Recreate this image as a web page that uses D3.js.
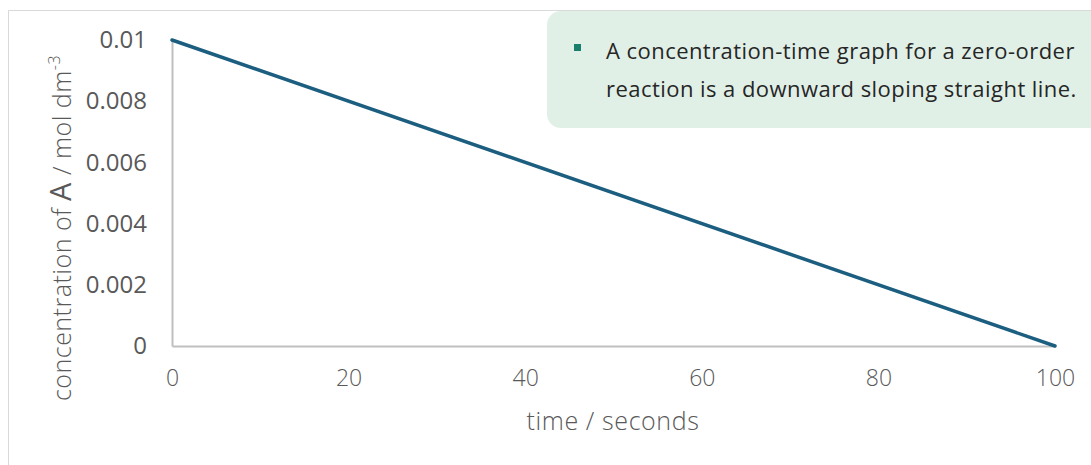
<!DOCTYPE html>
<html>
<head>
<meta charset="utf-8">
<script src="https://cdn.jsdelivr.net/npm/d3@7"></script>
<style>
  html, body { margin: 0; padding: 0; background: #fff; }
  svg { display: block; }
</style>
</head>
<body>
<svg id="chart" width="1091" height="465"></svg>
<script>
// Zero-order reaction: concentration of A falls linearly with time
const times = [0, 100];
const concentrations = [0.01, 0];
const xTicks = [0, 20, 40, 60, 80, 100];
const yTicks = [0, 0.002, 0.004, 0.006, 0.008, 0.01];
const yTickLabels = ["0", "0.002", "0.004", "0.006", "0.008", "0.01"];
const noteLines = [
  "A concentration-time graph for a zero-order",
  "reaction is a downward sloping straight line."
];

const svg = d3.select("#chart");
const W = 1091, H = 465;
const margin = { left: 172, right: 36, top: 40, bottom: 119 };
const FONT = "'Open Sans', sans-serif";

// outer frame (left and top edges)
svg.append("path")
  .attr("d", `M8.5,${H} L8.5,10.5 L${W},10.5`)
  .attr("fill", "none")
  .attr("stroke", "#d9d9d9")
  .attr("stroke-width", 1);

const x = d3.scaleLinear().domain([0, 100]).range([margin.left, W - margin.right]);
const y = d3.scaleLinear().domain([0, 0.01]).range([H - margin.bottom, margin.top]);

// x axis
const xAxis = svg.append("g")
  .attr("transform", `translate(0,${y(0)})`)
  .call(d3.axisBottom(x).tickValues(xTicks).tickSize(0).tickPadding(24));
xAxis.select(".domain").attr("stroke", "#bfbfbf").attr("stroke-width", 2);
xAxis.selectAll("text")
  .attr("font-family", FONT)
  .attr("font-size", 23)
  .attr("font-weight", 300)
  .attr("fill", "#595959");

// y axis
const yAxis = svg.append("g")
  .attr("transform", `translate(${x(0)},0)`)
  .call(d3.axisLeft(y).tickValues(yTicks).tickSize(0).tickPadding(25)
    .tickFormat((d, i) => yTickLabels[i]));
yAxis.select(".domain").attr("stroke", "#bfbfbf").attr("stroke-width", 2);
yAxis.selectAll("text")
  .attr("font-family", FONT)
  .attr("font-size", 24)
  .attr("fill", "#595959");

// data line
const data = times.map((t, i) => ({ t, c: concentrations[i] }));
svg.append("path")
  .datum(data)
  .attr("fill", "none")
  .attr("stroke", "#1b5e80")
  .attr("stroke-width", 3.5)
  .attr("stroke-linecap", "round")
  .attr("d", d3.line().x(d => x(d.t)).y(d => y(d.c)));

// axis titles
svg.append("text")
  .attr("x", 613)
  .attr("y", 430)
  .attr("text-anchor", "middle")
  .attr("font-family", FONT)
  .attr("font-size", 25)
  .attr("font-weight", 300)
  .attr("letter-spacing", 0.6)
  .attr("fill", "#595959")
  .text("time / seconds");

const yTitle = svg.append("text")
  .attr("transform", `translate(71,228) rotate(-90)`)
  .attr("text-anchor", "middle")
  .attr("font-family", FONT)
  .attr("font-size", 25)
  .attr("font-weight", 300)
  .attr("letter-spacing", 0.5)
  .attr("fill", "#595959");
yTitle.append("tspan").text("concentration of ");
yTitle.append("tspan").attr("font-weight", 400).attr("font-size", 29).text("A");
yTitle.append("tspan").text(" / mol dm");
yTitle.append("tspan").attr("font-size", 16).attr("dy", -11).text("-3");

// note box
const note = svg.append("g");
note.append("rect")
  .attr("x", 547).attr("y", 11)
  .attr("width", 570).attr("height", 117)
  .attr("rx", 14)
  .attr("fill", "#e1f0e6");
note.append("rect")
  .attr("x", 574).attr("y", 44)
  .attr("width", 7).attr("height", 7)
  .attr("fill", "#177f6b");
note.selectAll("text.line")
  .data(noteLines)
  .join("text")
  .attr("class", "line")
  .attr("x", 606)
  .attr("y", (d, i) => 59 + i * 38)
  .attr("font-family", FONT)
  .attr("font-size", 22)
  .attr("letter-spacing", 0.45)
  .attr("fill", "#262626")
  .text(d => d);
</script>
</body>
</html>
